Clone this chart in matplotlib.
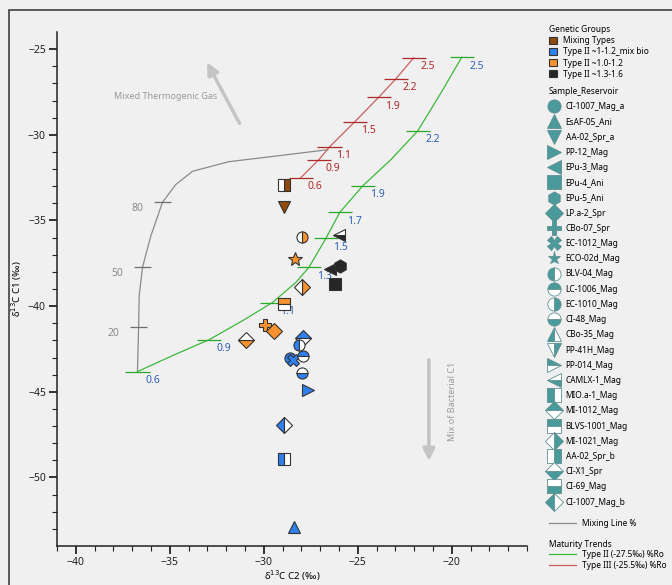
import matplotlib
matplotlib.use("Agg")
import matplotlib.pyplot as plt
from matplotlib.lines import Line2D
from matplotlib.patches import Patch, Rectangle

plt.rcParams['font.family'] = ['Noto Sans', 'DejaVu Sans']

# mixing line (% thermogenic)
mix_x = [-36.72, -36.66, -36.63, -36.45, -36.01, -35.39, -34.68, -33.79, -31.86, -29.2, -26.6]
mix_y = [-43.82, -41.24, -39.4, -37.72, -35.91, -33.94, -32.9, -32.13, -31.57, -31.22, -30.87]
mix_pct = [20, 50, 80]
mix_tick_x = [-36.66, -36.45, -35.39]
mix_tick_y = [-41.24, -37.72, -33.94]

# maturity trend Type II (-27.5 permil)
t2_x = [-36.72, -34.86, -32.91, -31.13, -29.54, -28.3, -27.59, -26.7, -25.96, -24.73, -23.24, -21.81, -20.59, -19.47]
t2_y = [-43.82, -42.89, -41.96, -40.85, -39.79, -38.62, -37.72, -36.05, -34.53, -32.97, -31.45, -29.77, -27.58, -25.47]
t2_ro = ['0.6', '0.9', '1.1', '1.3', '1.5', '1.7', '1.9', '2.2', '2.5']
t2_tick_x = [-36.72, -32.91, -29.54, -27.59, -26.7, -25.96, -24.73, -21.81, -19.47]
t2_tick_y = [-43.82, -41.96, -39.79, -37.72, -36.05, -34.53, -32.97, -29.77, -25.47]

# maturity trend Type III (-25.5 permil)
t3_ro = ['0.6', '0.9', '1.1', '1.5', '1.9', '2.2', '2.5']
t3_x = [-28.03, -27.07, -26.5, -25.16, -23.88, -22.98, -22.02]
t3_y = [-32.5, -31.45, -30.7, -29.24, -27.8, -26.74, -25.5]

# genetic groups
groups = ['Mixing Types', 'Type II ~1-1.2_mix bio', 'Type II ~1.0-1.2', 'Type II ~1.3-1.6']
group_colors = ['#8f4a0c', '#2f80f0', '#f7922e', '#262626']

# samples legend order
sample_legend = ['CI-1007_Mag_a', 'EsAF-05_Ani', 'AA-02_Spr_a', 'PP-12_Mag', 'EPu-3_Mag', 'EPu-4_Ani',
                 'EPu-5_Ani', 'LP.a-2_Spr', 'CBo-07_Spr', 'EC-1012_Mag', 'ECO-02d_Mag', 'BLV-04_Mag',
                 'LC-1006_Mag', 'EC-1010_Mag', 'CI-48_Mag', 'CBo-35_Mag', 'PP-41H_Mag', 'PP-014_Mag',
                 'CAMLX-1_Mag', 'MIO.a-1_Mag', 'MI-1012_Mag', 'BLVS-1001_Mag', 'MI-1021_Mag',
                 'AA-02_Spr_b', 'CI-X1_Spr', 'CI-69_Mag', 'CI-1007_Mag_b']

# plotted samples
pt_name = ['AA-02_Spr_b', 'AA-02_Spr_a', 'EC-1010_Mag', 'ECO-02d_Mag', 'CAMLX-1_Mag', 'EPu-3_Mag',
           'EPu-5_Ani', 'EPu-4_Ani', 'MI-1021_Mag', 'BLVS-1001_Mag', 'CBo-07_Spr', 'LP.a-2_Spr',
           'CI-X1_Spr', 'MI-1012_Mag', 'BLV-04_Mag', 'CI-1007_Mag_a', 'EC-1012_Mag', 'LC-1006_Mag',
           'CI-48_Mag', 'PP-12_Mag', 'CI-1007_Mag_b', 'MIO.a-1_Mag', 'EsAF-05_Ani']
pt_group = [0, 0, 2, 2, 3, 3,
            3, 3, 2, 2, 2, 2,
            2, 1, 1, 1, 1, 1,
            1, 1, 1, 1, 1]
pt_x = [-28.95, -28.92, -27.98, -28.35, -25.99, -26.49,
        -25.94, -26.21, -27.98, -28.95, -29.93, -29.45,
        -30.96, -27.94, -28.12, -28.62, -28.45, -27.94,
        -27.99, -27.64, -28.95, -28.95, -28.39]
pt_y = [-32.95, -34.2, -35.97, -37.23, -35.85, -37.81,
        -37.66, -38.68, -38.91, -39.88, -41.09, -41.44,
        -41.96, -41.85, -42.27, -43.0, -43.15, -42.92,
        -43.9, -44.88, -46.92, -48.9, -52.87]

# marker style per sample (marker, fillstyle)
marker_style = {
    'CI-1007_Mag_a': ('o', 'full'), 'EsAF-05_Ani': ('^', 'full'), 'AA-02_Spr_a': ('v', 'full'),
    'PP-12_Mag': ('>', 'full'), 'EPu-3_Mag': ('<', 'full'), 'EPu-4_Ani': ('s', 'full'),
    'EPu-5_Ani': ('h', 'full'), 'LP.a-2_Spr': ('D', 'full'), 'CBo-07_Spr': ('P', 'full'),
    'EC-1012_Mag': ('X', 'full'), 'ECO-02d_Mag': ('*', 'full'), 'BLV-04_Mag': ('o', 'left'),
    'LC-1006_Mag': ('o', 'top'), 'EC-1010_Mag': ('o', 'right'), 'CI-48_Mag': ('o', 'bottom'),
    'CBo-35_Mag': ('^', 'left'), 'PP-41H_Mag': ('v', 'right'), 'PP-014_Mag': ('>', 'top'),
    'CAMLX-1_Mag': ('<', 'bottom'), 'MIO.a-1_Mag': ('s', 'left'), 'MI-1012_Mag': ('D', 'top'),
    'BLVS-1001_Mag': ('s', 'top'), 'MI-1021_Mag': ('D', 'right'), 'AA-02_Spr_b': ('s', 'right'),
    'CI-X1_Spr': ('D', 'bottom'), 'CI-69_Mag': ('s', 'bottom'), 'CI-1007_Mag_b': ('D', 'left'),
}

bg = '#f0f0f0'
teal = '#4a9a9c'

fig = plt.figure(figsize=(6.72, 5.85), dpi=100, facecolor=bg)
fig.patches.append(Rectangle((9 / 672, -0.1), 1.2, 1 - 10 / 585 + 0.1, transform=fig.transFigure,
                             fill=False, edgecolor='#404040', linewidth=1.2))
ax = fig.add_axes([57 / 672, 1 - 546 / 585, 470 / 672, 514 / 585])
ax.set_facecolor(bg)

# mixing line
ax.plot(mix_x, mix_y, color='#8a8a8a', lw=0.9)
ax.hlines(mix_tick_y, [x - 0.45 for x in mix_tick_x], [x + 0.45 for x in mix_tick_x], color='#707070', lw=0.9)
for p, x, y in zip(mix_pct, mix_tick_x, mix_tick_y):
    ax.annotate(str(p), (x, y), xytext=(-25, -6), textcoords='offset pixels',
                ha='center', va='center', fontsize=7.5, color='#8a8a8a')

# Type II trend
ax.plot(t2_x, t2_y, color='#3cb83c', lw=0.9)
ax.hlines(t2_tick_y, [x - 0.65 for x in t2_tick_x], [x + 0.65 for x in t2_tick_x], color='#2aa82a', lw=0.9)
for r, x, y in zip(t2_ro, t2_tick_x, t2_tick_y):
    ax.annotate(r, (x, y), xytext=(15, -9), textcoords='offset pixels',
                ha='center', va='center', fontsize=7.5, color='#2f5fb8')

# Type III trend
ax.plot(t3_x, t3_y, color='#c86060', lw=0.9)
ax.hlines(t3_y, [x - 0.65 for x in t3_x], [x + 0.65 for x in t3_x], color='#b02828', lw=0.9)
for r, x, y in zip(t3_ro, t3_x, t3_y):
    ax.annotate(r, (x, y), xytext=(14, -9), textcoords='offset pixels',
                ha='center', va='center', fontsize=7.5, color='#b02828')

# samples
for name, g, x, y in zip(pt_name, pt_group, pt_x, pt_y):
    m, fs = marker_style[name]
    ms = {'*': 10, 'h': 9.5}.get(m, 8)
    ax.plot(x, y, linestyle='none', marker=m, fillstyle=fs, markersize=ms,
            markerfacecolor=group_colors[g], markerfacecoloralt='white',
            markeredgecolor='#333333', markeredgewidth=0.8, zorder=5)

# annotations
ax.text(-35.2, -27.79, 'Mixed Thermogenic Gas', ha='center', va='center', fontsize=6.5, color='#9a9a9a')
ax.annotate('', xy=(-33.09, -25.64), xytext=(-31.22, -29.48),
            arrowprops=dict(arrowstyle='-|>,head_width=0.35,head_length=0.7', color='#c4c4c4', lw=2.5))
ax.annotate('', xy=(-21.22, -49.19), xytext=(-21.22, -42.97),
            arrowprops=dict(arrowstyle='-|>,head_width=0.35,head_length=0.7', color='#c4c4c4', lw=2.5))
ax.text(-19.95, -45.58, 'Mix of Bacterial C1', rotation=90, ha='center', va='center', fontsize=6.5, color='#9a9a9a')

# axes
ax.set_xlim(-41, -16)
ax.set_ylim(-54, -24)
ax.set_xticks([-40, -35, -30, -25, -20])
ax.set_yticks([-50, -45, -40, -35, -30, -25])
ax.set_xticks(range(-41, -15), minor=True)
ax.set_yticks(range(-53, -24), minor=True)
ax.tick_params(which='major', length=6, width=1.3, labelsize=7.5, colors='#222222', pad=2)
ax.tick_params(which='minor', length=3.5, width=0.8, colors='#222222')
for s in ['top', 'right']:
    ax.spines[s].set_visible(False)
for s in ['left', 'bottom']:
    ax.spines[s].set_linewidth(1.1)
    ax.spines[s].set_color('#222222')
ax.set_xlabel('δ$^{13}$C C2 (‰)', fontsize=7, labelpad=0)
ax.set_ylabel('δ$^{13}$C C1 (‰)', fontsize=7, labelpad=3)

# legends
fs_leg = 6.0
leg_kw = dict(loc='upper left', frameon=False, fontsize=fs_leg, alignment='left',
              borderpad=0, borderaxespad=0, title_fontproperties={'weight': 'bold', 'size': fs_leg})
h_groups = [Patch(facecolor=c, edgecolor='#333333', linewidth=0.8) for c in group_colors]
fig.legend(h_groups, groups, bbox_to_anchor=(549 / 672, 1 - 25 / 585), title='Genetic Groups',
           handlelength=0.9, handleheight=0.9, handletextpad=0.8, labelspacing=0.26, **leg_kw)

h_samples = []
for name in sample_legend:
    m, fs = marker_style[name]
    h_samples.append(Line2D([], [], linestyle='none', marker=m, fillstyle=fs, markersize=9.5,
                            markerfacecolor=teal, markerfacecoloralt='white',
                            markeredgecolor='#5e8f90', markeredgewidth=0.6))
fig.legend(h_samples, sample_legend, bbox_to_anchor=(549 / 672, 1 - 87 / 585), title='Sample_Reservoir',
           handlelength=1.3, handletextpad=0.7, labelspacing=0.745, **leg_kw)

fig.legend([Line2D([], [], color='#8a8a8a', lw=0.9)], ['Mixing Line %'],
           bbox_to_anchor=(549 / 672, 1 - 519 / 585), handlelength=3.2, handletextpad=0.8, **leg_kw)

fig.legend([Line2D([], [], color='#3cb83c', lw=0.9), Line2D([], [], color='#c86060', lw=0.9)],
           ['Type II (-27.5‰) %Ro', 'Type III (-25.5‰) %Ro'],
           bbox_to_anchor=(549 / 672, 1 - 540 / 585), title='Maturity Trends',
           handlelength=3.2, handletextpad=0.8, labelspacing=0.15, **leg_kw)

fig.savefig('out.png', dpi=100, facecolor=bg)
